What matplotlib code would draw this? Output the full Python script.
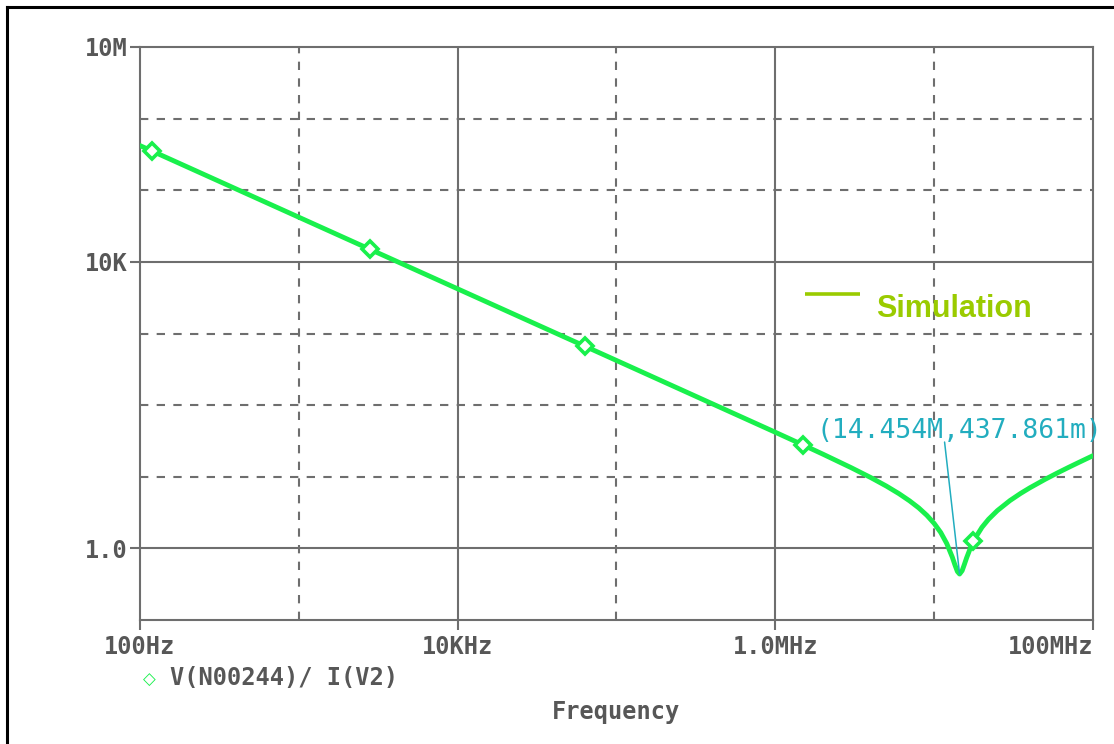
import matplotlib
matplotlib.use('Agg')
import matplotlib.pyplot as plt
from matplotlib.lines import Line2D

# trace: |V(N00244)/I(V2)| vs frequency
freq_hz = [1e2, 1e3, 1e4, 1e5, 1e6, 1.5e6, 2e6, 3e6, 4e6, 5e6, 6e6, 7e6, 8e6,
           9e6, 10e6, 11e6, 12e6, 13e6, 13.5e6, 14e6, 14.454e6, 15e6, 15.5e6,
           16e6, 17e6, 18e6, 20e6, 22e6, 25e6, 30e6, 35e6, 40e6, 50e6, 60e6,
           70e6, 80e6, 90e6, 100e6]
impedance = [420e3, 42e3, 4.2e3, 420, 41.8, 27.7, 20.6, 13.4, 9.71, 7.41,
             5.81, 4.61, 3.67, 2.89, 2.23, 1.665, 1.17, 0.757, 0.591, 0.476,
             0.438, 0.488, 0.598, 0.736, 1.043, 1.358, 1.97, 2.55, 3.37, 4.65,
             5.85, 7.00, 9.22, 11.37, 13.48, 15.56, 17.63, 19.69]

# trace symbols
marker_freq = [119, 2.81e3, 63.4e3, 1.49e6, 17.56e6]
marker_imp = [353e3, 14.95e3, 662, 27.9, 1.25]

# cursor readout
min_freq = 14.454e6
min_imp = 437.861e-3
cursor_label = '(14.454M,437.861m)'

x_ticks = [1e2, 1e4, 1e6, 1e8]
x_labels = ['100Hz', '10KHz', '1.0MHz', '100MHz']
y_ticks = [1e0, 1e4, 1e7]
y_labels = ['1.0', '10K', '10M']
x_solid = [1e4, 1e6]
x_dashed = [1e3, 1e5, 1e7]
y_solid = [1e0, 1e4]
y_dashed = [1e1, 1e2, 1e3, 1e5, 1e6]

GRID = '#6e6e6e'
LABEL = '#575757'
TRACE = '#19f04c'
CURSOR = '#22adbf'
SIM = '#9acb00'
MONO = 'DejaVu Sans Mono'
FS = 17
W, H = 1114, 744

fig = plt.figure(figsize=(W / 100, H / 100), dpi=100)
ax = fig.add_axes([140 / W, 1 - 620 / H, 953 / W, 573 / H])
ax.set_xscale('log')
ax.set_yscale('log')
ax.set_xlim(1e2, 1e8)
ax.set_ylim(1e-1, 1e7)

for x in x_solid:
    ax.axvline(x, color=GRID, lw=1.5, zorder=1)
for x in x_dashed:
    ax.axvline(x, color=GRID, lw=1.5, ls=(0, (4, 4)), zorder=1)
for y in y_solid:
    ax.axhline(y, color=GRID, lw=1.5, zorder=1)
for y in y_dashed:
    ax.axhline(y, color=GRID, lw=1.5, ls=(0, (4, 4)), zorder=1)

ax.plot(freq_hz, impedance, color=TRACE, lw=3.5, solid_joinstyle='round',
        solid_capstyle='round', zorder=3)
ax.plot(marker_freq, marker_imp, ls='none', marker='D', ms=8.5, mfc='white',
        mec=TRACE, mew=2.6, zorder=4)

# cursor
ax.annotate('', xy=(min_freq, min_imp), xytext=(-15, 132),
            textcoords='offset pixels',
            arrowprops=dict(arrowstyle='-', color=CURSOR, lw=1.1,
                            shrinkA=0, shrinkB=0), zorder=5)
ax.annotate(cursor_label, xy=(min_freq, min_imp), xytext=(-143, 136),
            textcoords='offset pixels', ha='left', va='baseline',
            fontfamily=MONO, fontsize=19, color=CURSOR, zorder=5)

# "Simulation" tag
ax.add_line(Line2D([0.698, 0.7555], [0.569, 0.569], transform=ax.transAxes,
                   color=SIM, lw=2.6, solid_capstyle='butt'))
ax.text(0.7723, 0.5288, 'Simulation', transform=ax.transAxes, ha='left',
        va='baseline', fontfamily='Liberation Sans', fontweight='bold',
        fontsize=22, color=SIM)

ax.minorticks_off()
ax.set_xticks(x_ticks)
ax.set_xticklabels(x_labels, fontfamily=MONO, fontweight='bold', fontsize=FS)
ax.set_yticks(y_ticks)
ax.set_yticklabels(y_labels, fontfamily=MONO, fontweight='bold', fontsize=FS)
ax.get_xticklabels()[-1].set_ha('right')
ax.tick_params(axis='both', which='major', direction='out', length=7,
               width=1.5, color=GRID, labelcolor=LABEL)
ax.tick_params(axis='x', pad=4)
ax.tick_params(axis='y', pad=2)
for sp in ax.spines.values():
    sp.set_color(GRID)
    sp.set_linewidth(1.5)

ax.set_xlabel('Frequency', fontfamily=MONO, fontweight='bold', fontsize=FS,
              color=LABEL, labelpad=29)

# trace legend below the axis
fig.text(149 / W, 1 - 680 / H, '\u25c7', ha='center', va='center',
         color=TRACE, fontsize=12)
fig.text(170 / W, 1 - 678 / H, 'V(N00244)/ I(V2)', ha='left', va='center',
         fontfamily=MONO, fontweight='bold', fontsize=FS, color=LABEL)

# window frame
fig.add_artist(Line2D([6.5 / W, 6.5 / W], [0, 1 - 6.5 / H], color='black',
                      lw=2.2, transform=fig.transFigure))
fig.add_artist(Line2D([6.5 / W, 1], [1 - 6.5 / H, 1 - 6.5 / H], color='black',
                      lw=2.2, transform=fig.transFigure))

fig.savefig('out.png', dpi=100)
